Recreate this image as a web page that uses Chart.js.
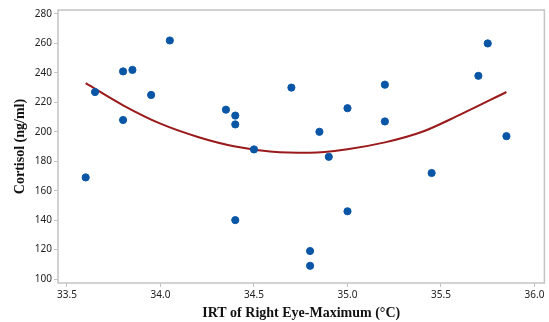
<!DOCTYPE html>
<html>
<head>
<meta charset="utf-8">
<script src="https://cdn.jsdelivr.net/npm/chart.js@4/dist/chart.umd.min.js"></script>
<style>
  html, body { margin: 0; padding: 0; background: #ffffff; }
  #wrap { width: 549px; height: 322px; position: relative; }
</style>
</head>
<body>
<div id="wrap"><canvas id="c" width="549" height="322"></canvas></div>
<script>
// Observations: IRT of right eye maximum (°C) vs cortisol (ng/ml)
const irtValues = [33.60, 33.65, 33.80, 33.80, 33.85, 33.95, 34.05, 34.35, 34.40, 34.40, 34.40, 34.50, 34.70, 34.80, 34.80, 34.85, 34.90, 35.00, 35.00, 35.20, 35.20, 35.45, 35.70, 35.75, 35.85];
const cortisolValues = [169, 227, 241, 208, 242, 225, 262, 215, 211, 205, 140, 188, 230, 119, 109, 200, 183, 216, 146, 232, 207, 172, 238, 260, 197];

// Fitted curve
const fitX = [33.60, 33.80, 34.00, 34.20, 34.40, 34.60, 34.80, 35.00, 35.20, 35.40, 35.60, 35.85];
const fitY = [233, 218, 205.5, 196.5, 190, 186.5, 185.8, 188.2, 192.8, 200, 211.5, 227];

// Tick labels
const xTicks = [33.5, 34.0, 34.5, 35.0, 35.5, 36.0];
const yTicks = [100, 120, 140, 160, 180, 200, 220, 240, 260, 280];

const xTitle = 'IRT of Right Eye-Maximum (°C)';
const yTitle = 'Cortisol (ng/ml)';

const frameColor = '#c4c4c4';
const tickFont = { family: 'Noto Sans', size: 10 };
const titleFont = { family: 'Liberation Serif', size: 14, weight: 'bold' };

const framePlugin = {
  id: 'frame',
  afterDraw(chart) {
    const a = chart.chartArea, ctx = chart.ctx;
    ctx.save();
    ctx.strokeStyle = frameColor;
    ctx.lineWidth = 1.5;
    ctx.strokeRect(a.left, a.top, a.right - a.left, a.bottom - a.top);
    ctx.restore();
  }
};

new Chart(document.getElementById('c'), {
  type: 'scatter',
  data: {
    datasets: [
      {
        label: 'Observed',
        data: irtValues.map((x, i) => ({ x: x, y: cortisolValues[i] })),
        backgroundColor: '#0a56a6',
        borderColor: '#0a56a6',
        pointRadius: 3.6,
        pointHoverRadius: 3.6,
        order: 0
      },
      {
        label: 'Fit',
        data: fitX.map((x, i) => ({ x: x, y: fitY[i] })),
        showLine: true,
        borderColor: '#9a1a1c',
        borderWidth: 2,
        pointRadius: 0,
        tension: 0.4,
        cubicInterpolationMode: 'monotone',
        fill: false,
        order: 1
      }
    ]
  },
  options: {
    responsive: false,
    animation: false,
    events: [],
    layout: { padding: { left: 0, right: 2, top: 10, bottom: 0 } },
    plugins: {
      legend: { display: false },
      tooltip: { enabled: false }
    },
    scales: {
      x: {
        type: 'linear',
        min: 33.452,
        max: 36.053,
        afterBuildTicks(scale) { scale.ticks = xTicks.map(v => ({ value: v })); },
        afterFit(scale) { scale.height = 39; },
        grid: { display: true, drawOnChartArea: false, drawTicks: true, tickLength: 4, color: frameColor },
        border: { display: false },
        ticks: {
          color: '#222222',
          font: tickFont,
          padding: 2,
          maxRotation: 0,
          autoSkip: false,
          callback: v => Number(v).toFixed(1)
        },
        title: {
          display: true,
          text: xTitle,
          color: '#111111',
          font: titleFont,
          padding: { top: 4, bottom: 0 }
        }
      },
      y: {
        type: 'linear',
        min: 97.3,
        max: 282.7,
        afterBuildTicks(scale) { scale.ticks = yTicks.map(v => ({ value: v })); },
        afterFit(scale) { scale.width = 58; },
        grid: { display: true, drawOnChartArea: false, drawTicks: true, tickLength: 4, color: frameColor },
        border: { display: false },
        ticks: {
          color: '#222222',
          font: tickFont,
          padding: 2,
          autoSkip: false,
          callback: v => String(v)
        },
        title: {
          display: true,
          text: yTitle,
          color: '#111111',
          font: titleFont,
          padding: { top: 12, bottom: 4 }
        }
      }
    }
  },
  plugins: [framePlugin]
});
</script>
</body>
</html>
